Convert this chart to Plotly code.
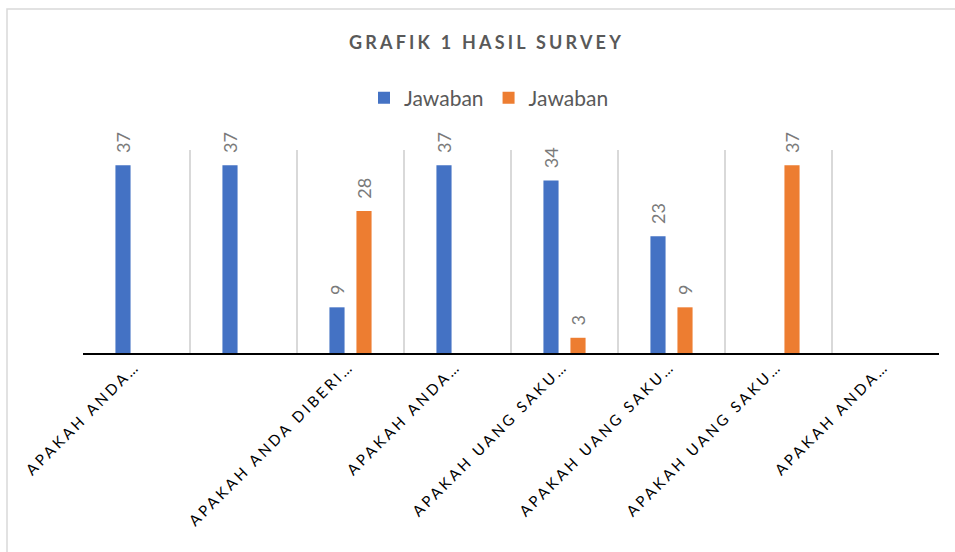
import plotly.graph_objects as go

# ---- data ----
categories = [
    "APAKAH ANDA…",
    "",
    "APAKAH ANDA DIBERI…",
    "APAKAH ANDA…",
    "APAKAH UANG SAKU…",
    "APAKAH UANG SAKU…",
    "APAKAH UANG SAKU…",
    "APAKAH ANDA…",
]
series_names = ["Jawaban", "Jawaban"]
values_blue = [37, 37, 9, 37, 34, 23, None, None]
values_orange = [None, None, 28, None, 3, 9, 37, None]
title_text = "GRAFIK 1 HASIL SURVEY"

positions = list(range(len(categories)))
boundaries = [p - 0.5 for p in positions] + [positions[-1] + 0.5]

BLUE = "#4472C4"
ORANGE = "#ED7D31"
FONT = "Lato"
PAD = "\u00a0\u00a0"

fig = go.Figure()
for name, vals, col in [(series_names[0], values_blue, BLUE),
                        (series_names[1], values_orange, ORANGE)]:
    fig.add_trace(go.Bar(
        x=positions, y=vals, name=name,
        marker=dict(color=col, line=dict(width=0)),
        text=[None if v is None else f"{PAD}{v}" for v in vals],
        textposition="outside", textangle=-90,
        constraintext="none", cliponaxis=False,
        textfont=dict(family=FONT, size=18, color="#7A7A7A"),
        hoverinfo="skip",
    ))

fig.update_layout(
    width=955, height=552,
    margin=dict(l=83, r=16, t=150, b=199),
    paper_bgcolor="white", plot_bgcolor="white",
    barmode="group", bargap=0.495, bargroupgap=0.44,
    title=dict(text=f"<b>{title_text}</b>", x=486.5 / 955, xanchor="center",
               xref="container", y=1 - 43 / 552, yanchor="middle", yref="container",
               font=dict(family=FONT, size=18, color="#595959")),
    legend=dict(orientation="h", xref="container", yref="container",
                x=489 / 955, xanchor="center", y=1 - 98 / 552, yanchor="middle",
                font=dict(family=FONT, size=21, color="#595959"),
                itemclick=False, itemdoubleclick=False),
    xaxis=dict(range=[-0.5, len(categories) - 0.5], tickmode="array",
               tickvals=positions, ticktext=categories, tickangle=-45,
               showgrid=False, zeroline=False, showline=True,
               linecolor="#000000", linewidth=1.5, ticks="",
               ticklabelshift=-1, ticklabelstandoff=-3,
               tickfont=dict(family=FONT, size=15, color="#000000"),
               minor=dict(tickmode="array", tickvals=boundaries, showgrid=True,
                          gridcolor="#D9D9D9", gridwidth=1.5, ticks="")),
    yaxis=dict(range=[0, 40], showgrid=False, zeroline=False,
               showticklabels=False, showline=False, ticks=""),
    shapes=[dict(type="rect", xref="paper", yref="paper",
                 x0=(7 - 83) / 856, x1=1.2, y0=-1.5, y1=(353 - 9) / 203,
                 line=dict(color="#D9D9D9", width=1.5), fillcolor="rgba(0,0,0,0)",
                 layer="below")],
)

post = """
var s=document.createElement('style');
s.textContent='html,body{margin:0;padding:0;} .xtick text{letter-spacing:3px;} .gtitle{letter-spacing:3.2px;}';
document.head.appendChild(s);
"""
fig.write_html("out.html", post_script=post, config={"displayModeBar": False})
